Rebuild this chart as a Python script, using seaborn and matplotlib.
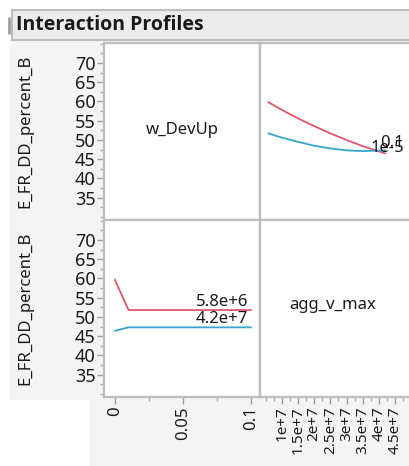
import numpy as np
import pandas as pd
import matplotlib
matplotlib.use("Agg")
import matplotlib.pyplot as plt
import seaborn as sns
from matplotlib.patches import Rectangle
from matplotlib.lines import Line2D
from matplotlib.ticker import MultipleLocator, FixedLocator

# ---------------- data ----------------
title = "Interaction Profiles"
y_label = "E_FR_DD_percent_B"
factor_a = "w_DevUp"
factor_b = "agg_v_max"

# bottom-left: response vs w_DevUp, one line per agg_v_max level
w_vals = [0.0, 0.01, 0.1]
resp_agg_low = [59.7, 51.8, 51.8]     # agg_v_max = 5.8e+6
resp_agg_high = [46.4, 47.3, 47.3]    # agg_v_max = 4.2e+7
agg_levels = ["5.8e+6", "4.2e+7"]

# top-right: response vs agg_v_max, one line per w_DevUp level
agg_vals = [5.8e6, 1.0e7, 1.5e7, 2.0e7, 2.5e7, 3.0e7, 3.5e7, 4.2e7]
resp_w_low = [59.8, 57.8, 55.6, 53.6, 51.7, 50.0, 48.4, 46.5]   # w_DevUp = 1e-5
resp_w_high = [51.7, 50.6, 49.5, 48.5, 47.8, 47.3, 47.1, 47.3]  # w_DevUp = 0.1
w_levels = ["1e-5", "0.1"]

y_ticks = [35, 40, 45, 50, 55, 60, 65, 70]
agg_ticks = [1.0e7, 1.5e7, 2.0e7, 2.5e7, 3.0e7, 3.5e7, 4.0e7, 4.5e7]
agg_tick_labels = ["1e+7", "1.5e+7", "2e+7", "2.5e+7", "3e+7", "3.5e+7", "4e+7", "4.5e+7"]
w_ticks = [0, 0.05, 0.1]
w_tick_labels = ["0", "0.05", "0.1"]

RED = "#E0566C"
BLUE = "#33A7CC"
line_colors = [RED, BLUE]

df_bl = pd.DataFrame({
    "w": w_vals * 2,
    "resp": resp_agg_low + resp_agg_high,
    "level": [agg_levels[0]] * len(w_vals) + [agg_levels[1]] * len(w_vals),
})
df_tr = pd.DataFrame({
    "agg": agg_vals * 2,
    "resp": resp_w_low + resp_w_high,
    "level": [w_levels[0]] * len(agg_vals) + [w_levels[1]] * len(agg_vals),
})

# ---------------- style ----------------
sns.set_theme(style="white")
plt.rcParams["font.family"] = ["Noto Sans", "DejaVu Sans"]
TXT = "#1a1a1a"
GRID = "#BDBDBD"
BG = "#F4F4F4"

W, H = 409, 466
fig = plt.figure(figsize=(W / 100, H / 100), dpi=100, facecolor="white")

def fx(px):
    return px / W

def fy(py):
    return 1 - py / H

# background gray regions (behind axes)
fig.patches.append(Rectangle((fx(10), fy(400)), fx(409 - 10), (400 - 40) / H,
                             transform=fig.transFigure, facecolor=BG, edgecolor="none", zorder=-2))
fig.patches.append(Rectangle((fx(90), 0), fx(409 - 90), fy(400),
                             transform=fig.transFigure, facecolor=BG, edgecolor="none", zorder=-2))
# title bar
fig.patches.append(Rectangle((fx(12), fy(40)), fx(420 - 12), 30 / H,
                             transform=fig.transFigure, facecolor="#ECECEC", edgecolor="#BEBEBE",
                             linewidth=1.5, zorder=-1))
fig.lines.append(Line2D([fx(9), fx(9)], [fy(18), fy(33)], transform=fig.transFigure,
                        color="#A0A0A0", linewidth=2, zorder=-1))
fig.text(fx(16), fy(25), title, fontsize=14, fontweight="bold", color=TXT,
         va="center", ha="left", family=["Open Sans", "DejaVu Sans"])

L, M, R = 104, 260, 415
T, MID, B = 43, 220, 397
ax_tl = fig.add_axes([fx(L), fy(MID), fx(M - L), (MID - T) / H])
ax_tr = fig.add_axes([fx(M), fy(MID), fx(R - M), (MID - T) / H])
ax_bl = fig.add_axes([fx(L), fy(B), fx(M - L), (B - MID) / H])
ax_br = fig.add_axes([fx(M), fy(B), fx(R - M), (B - MID) / H])

ylim = (29.2, 75.2)
wlim = (-0.008, 0.1066)
agglim = (3.2e6, 5.12e7)

for ax in (ax_tl, ax_tr, ax_bl, ax_br):
    ax.set_facecolor("white")
    for s in ax.spines.values():
        s.set_color(GRID)
        s.set_linewidth(1.6)

# lines
sns.lineplot(data=df_bl, x="w", y="resp", hue="level", palette=line_colors,
             ax=ax_bl, legend=False, linewidth=1.3, sort=False)
sns.lineplot(data=df_tr, x="agg", y="resp", hue="level", palette=line_colors,
             ax=ax_tr, legend=False, linewidth=1.3, sort=False)
for ax in (ax_tl, ax_tr, ax_bl, ax_br):
    ax.set_xlabel("")
    ax.set_ylabel("")
    ax.set_ylim(*ylim)
ax_tl.set_xlim(*wlim); ax_bl.set_xlim(*wlim); ax_tr.set_xlim(*agglim); ax_br.set_xlim(*agglim)

# line labels
fs = 12
ax_bl.text(0.0978, resp_agg_low[-1], agg_levels[0], ha="right", va="bottom",
           fontsize=fs, color=TXT)
ax_bl.text(0.0978, resp_agg_high[-1], agg_levels[1], ha="right", va="bottom",
           fontsize=fs, color=TXT)
ax_tr.text(4.78e7, resp_w_low[-1] - 0.6, w_levels[0], ha="right", va="bottom",
           fontsize=fs, color=TXT)
ax_tr.text(4.78e7, resp_w_high[-1] - 0.1, w_levels[1], ha="right", va="bottom",
           fontsize=fs, color=TXT)

# diagonal names
ax_tl.text(0.5, 0.51, factor_a, transform=ax_tl.transAxes, ha="center", va="center",
           fontsize=fs, color=TXT)
ax_br.text(0.47, 0.52, factor_b, transform=ax_br.transAxes, ha="center", va="center",
           fontsize=fs, color=TXT)

# ticks
for ax in (ax_tl, ax_bl):
    ax.yaxis.set_major_locator(FixedLocator(y_ticks))
    ax.yaxis.set_minor_locator(MultipleLocator(2.5))
    ax.tick_params(axis="y", which="major", left=True, length=5, width=1, color="#A0A0A0",
                   labelsize=13, labelcolor=TXT, pad=1)
    ax.tick_params(axis="y", which="minor", left=True, length=3, width=1, color="#B0B0B0")
    ax.set_ylabel(y_label, fontsize=12, color=TXT, labelpad=30)
for ax in (ax_tr, ax_br):
    ax.tick_params(axis="y", which="both", left=False, labelleft=False)
for ax in (ax_tl, ax_tr):
    ax.tick_params(axis="x", which="both", bottom=False, labelbottom=False)

ax_bl.xaxis.set_major_locator(FixedLocator(w_ticks))
ax_bl.set_xticklabels(w_tick_labels, rotation=90)
ax_bl.xaxis.set_minor_locator(MultipleLocator(0.025))
ax_br.xaxis.set_major_locator(FixedLocator(agg_ticks))
ax_br.set_xticklabels(agg_tick_labels, rotation=90)
ax_br.xaxis.set_minor_locator(MultipleLocator(0.25e7))
for ax in (ax_bl, ax_br):
    ax.tick_params(axis="x", which="major", bottom=True, length=5, width=1, color="#A0A0A0",
                   labelsize=12, labelcolor=TXT, pad=2)
    ax.tick_params(axis="x", which="minor", bottom=True, length=3, width=1, color="#B0B0B0")
ax_br.tick_params(axis="x", which="major", labelsize=11, pad=2)

fig.savefig("out.png", dpi=100, facecolor="white")
